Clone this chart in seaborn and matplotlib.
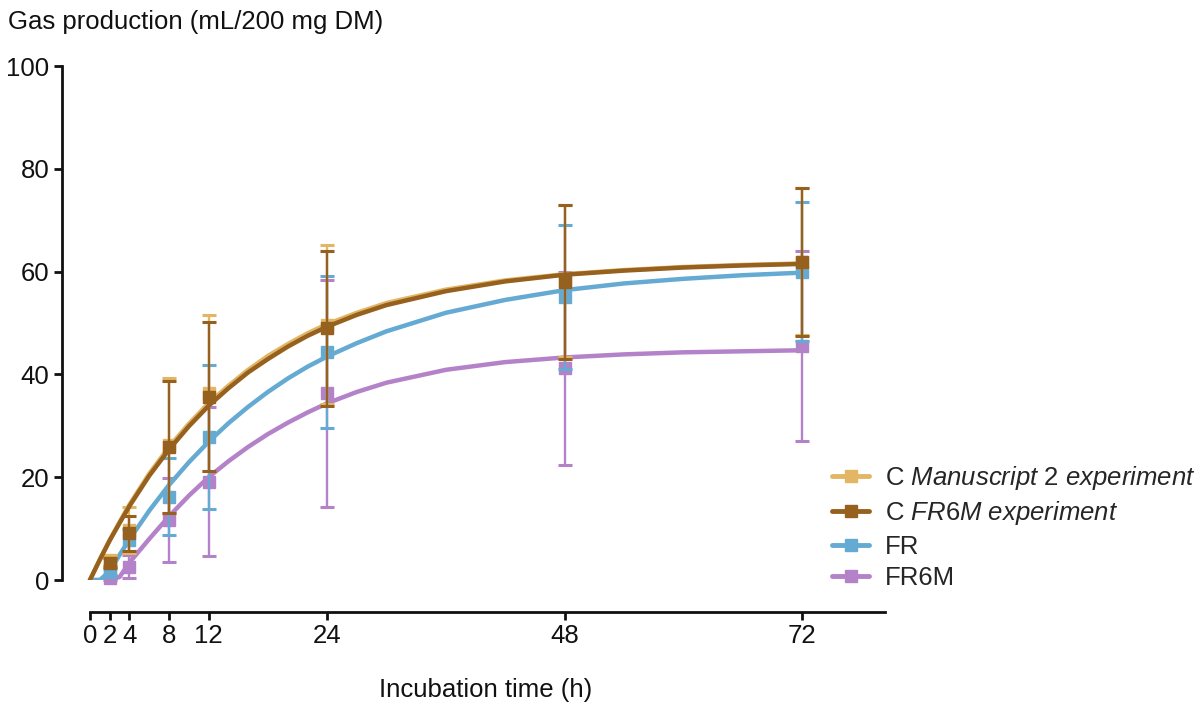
import matplotlib
matplotlib.use('Agg')
import matplotlib.pyplot as plt
from matplotlib.lines import Line2D
import seaborn as sns

times = [2, 4, 8, 12, 24, 48, 72]

c_man2_mean = [3.8, 9.8, 26.2, 36.4, 49.7, 58.2, 61.9]
c_man2_sd = [0.9, 4.5, 13.1, 15.1, 15.5, 14.8, 14.3]

c_fr6m_mean = [3.4, 9.1, 25.9, 35.7, 49.0, 58.0, 61.8]
c_fr6m_sd = [0.8, 3.4, 12.8, 14.5, 15.1, 15.0, 14.4]

fr_mean = [1.5, 7.8, 16.2, 27.9, 44.4, 55.1, 60.0]
fr_sd = [0.6, 2.2, 7.5, 14.0, 14.8, 14.0, 13.5]

fr6m_mean = [0.3, 2.6, 11.7, 19.1, 36.3, 41.2, 45.6]
fr6m_sd = [0.3, 2.2, 8.1, 14.5, 22.1, 18.8, 18.5]

# Fitted curves, values
fit_t = [0, 1, 2, 3, 4, 6, 8, 10, 12, 14, 16, 18, 20, 22, 24, 27, 30, 36, 42, 48, 54, 60, 66, 72]
c_man2_fit = [0, 4.0, 7.8, 11.3, 14.7, 20.7, 25.9, 30.4, 34.4, 37.8, 40.9, 43.6, 45.9, 48.0, 49.8,
              52.0, 53.9, 56.5, 58.3, 59.5, 60.3, 60.9, 61.3, 61.6]
c_fr6m_fit = [0, 3.96, 7.7, 11.1, 14.4, 20.3, 25.4, 29.9, 33.9, 37.3, 40.4, 43.0, 45.4, 47.5, 49.3,
              51.6, 53.5, 56.2, 58.1, 59.4, 60.2, 60.8, 61.2, 61.5]
fr_fit = [0, 0, 1.7, 4.9, 7.9, 13.5, 18.5, 22.9, 26.9, 30.5, 33.7, 36.6, 39.2, 41.5, 43.5,
          46.1, 48.4, 52.0, 54.5, 56.4, 57.7, 58.6, 59.3, 59.8]
fr6m_fit = [0, 0, 0, 0.6, 3.4, 8.0, 12.4, 16.4, 20.0, 23.1, 25.9, 28.4, 30.6, 32.6, 34.4,
            36.6, 38.4, 40.9, 42.4, 43.3, 43.9, 44.3, 44.5, 44.7]

x_ticks = [0, 2, 4, 8, 12, 24, 48, 72]
y_ticks = [0, 20, 40, 60, 80, 100]

sns.set_theme(style='ticks')
plt.rcParams['font.family'] = ['Liberation Sans', 'DejaVu Sans']
plt.rcParams['mathtext.fontset'] = 'custom'
plt.rcParams['mathtext.rm'] = 'Liberation Sans'
plt.rcParams['mathtext.it'] = 'Liberation Sans:italic'

fs = 18.5
groups = [
    ('FR6M', fr6m_mean, fr6m_sd, fr6m_fit, '#B482C8', 2),
    ('FR', fr_mean, fr_sd, fr_fit, '#64AAD2', 3),
    (r'C $\mathit{Manuscript\ 2\ experiment}$', c_man2_mean, c_man2_sd, c_man2_fit, '#E2B664', 4),
    (r'C $\mathit{FR6M\ experiment}$', c_fr6m_mean, c_fr6m_sd, c_fr6m_fit, '#96601E', 5),
]

fig = plt.figure(figsize=(12.03, 7.07), dpi=100)
ax = fig.add_axes([0.0515, 0.1796, 0.7357 - 0.0515, 0.9066 - 0.1796])

for label, mean, sd, fit, color, z in groups:
    sns.lineplot(x=fit_t, y=fit, ax=ax, color=color, linewidth=3.2,
                 estimator=None, legend=False, zorder=z)
    ax.errorbar(times, mean, yerr=sd, fmt='s', color=color, ms=9,
                elinewidth=1.7, capsize=5, capthick=2.2, clip_on=False, zorder=z)

ax.set_xlim(-2.83, 80.4)
ax.set_ylim(0, 100)
ax.set_xticks(x_ticks)
ax.set_yticks(y_ticks)
sns.despine(ax=ax)
ax.spines['bottom'].set_position(('outward', 23))
ax.spines['bottom'].set_bounds(0, 80.4)
for s in ['left', 'bottom']:
    ax.spines[s].set_linewidth(2)
    ax.spines[s].set_color('#111111')
ax.tick_params(length=6, width=2, labelsize=fs, colors='#111111', pad=3)
ax.grid(False)

ax.set_xlabel('Incubation time (h)', fontsize=fs, color='#111111')
ax.xaxis.set_label_coords(40, -0.19, transform=ax.get_xaxis_transform())
ax.set_ylabel('')
fig.text(8 / 1203, 1 - 22 / 707, 'Gas production (mL/200 mg DM)', fontsize=fs,
         color='#111111', ha='left', va='center')

order = [2, 3, 1, 0]
handles = [Line2D([0], [0], color=groups[i][4], lw=3.5, marker='s', ms=8) for i in order]
labels = [groups[i][0] for i in order]
fig.legend(handles, labels, loc='center left', bbox_to_anchor=(832 / 1203, 1 - 527 / 707),
           frameon=False, fontsize=fs, handlelength=1.45, handletextpad=0.6,
           labelspacing=0.28, borderpad=0, borderaxespad=0)

fig.savefig('out.png', dpi=100)
